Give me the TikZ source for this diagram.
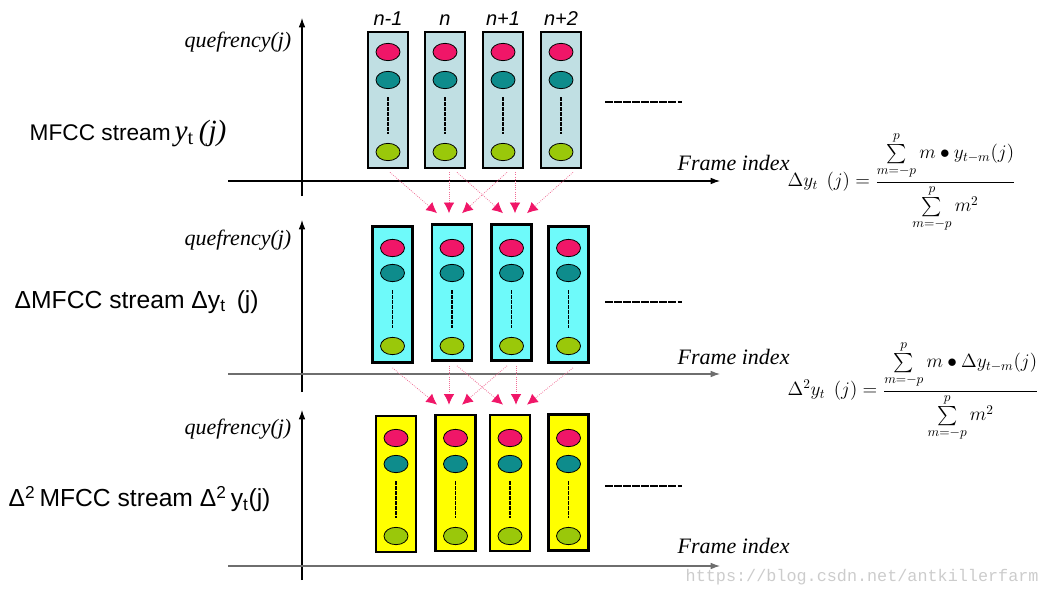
\documentclass[tikz,border=0pt]{standalone}
\usepackage{amsmath}
\usepackage{fontspec}
\setmainfont{Liberation Serif}
\setsansfont{Liberation Sans}
\setmonofont{Liberation Mono}
\usetikzlibrary{positioning, arrows.meta, shapes.geometric}

\definecolor{boxgray}{RGB}{192,223,227}
\definecolor{boxcyan}{RGB}{110,250,250}
\definecolor{boxyellow}{RGB}{255,255,0}
\definecolor{dotred}{RGB}{240,22,104}
\definecolor{dotteal}{RGB}{14,140,140}
\definecolor{dotgreen}{RGB}{154,200,10}
\definecolor{linkpink}{RGB}{240,110,150}
\definecolor{axisgray}{RGB}{110,110,110}

\tikzset{
  framebox/.style={draw, line width=2pt, minimum width=30pt, minimum height=102pt, inner sep=0pt},
  dot/.style={draw, ellipse, line width=0.6pt, minimum width=18pt, minimum height=13pt, inner sep=0pt},
  gapline/.style={line width=1.4pt, dash pattern=on 3pt off 0.7pt},
  more/.style={line width=1.2pt, dash pattern=on 6pt off 0.8pt},
  axis/.style={line width=0.8pt, -{Latex[length=7pt,width=5pt]}},
  link/.style={linkpink, line width=0.6pt, densely dotted, -{Latex[length=8pt,width=8pt,color=dotred]}},
  ylab/.style={font=\fontsize{16.5}{18}\selectfont\itshape, anchor=east},
  xlab/.style={font=\fontsize{16.5}{20}\selectfont\itshape, anchor=west},
  stream/.style={font=\sffamily\fontsize{17}{20}\selectfont, anchor=west},
  framelab/.style={font=\sffamily\itshape\fontsize{15}{17}\selectfont},
  formula/.style={font=\fontsize{14.5}{17}\selectfont, anchor=west},
}

\begin{document}
\begin{tikzpicture}[x=0.75pt, y=-0.75pt]
  \useasboundingbox (0,0) rectangle (1045,599);

  % Axes
  \draw[axis] (302,196) -- (302,18);
  \draw[axis] (228,181) -- (720,181);
  \draw[axis] (302,392) -- (302,220);
  \draw[axis, axisgray] (228,374) -- (720,374);
  \draw[axis] (302,580) -- (302,410);
  \draw[axis, axisgray] (228,566) -- (720,566);

  % Axis labels
  \node[ylab] (q1) at (296,42) {quefrency(j)};
  \node[ylab] (q2) at (296,240) {quefrency(j)};
  \node[ylab] (q3) at (296,429) {quefrency(j)};
  \node[xlab] (f1) at (673,163) {Frame index};
  \node[xlab] (f2) at (673,357) {Frame index};
  \node[xlab] (f3) at (673,546) {Frame index};

  % Stream names
  \node[stream] (s1) at (25,133) {MFCC stream\,{\rmfamily\itshape\fontsize{22}{24}\selectfont y\textsubscript{\upshape t}\,(j)}};
  \node[stream, font=\sffamily\fontsize{18.5}{22}\selectfont] (s2) at (10,302) {ΔMFCC stream Δy\textsubscript{t}\ \,(j)};
  \node[stream, font=\sffamily\fontsize{18.5}{22}\selectfont] (s3) at (4,499) {Δ\textsuperscript{2}\,MFCC stream Δ\textsuperscript{2}\,y\textsubscript{t}(j)};

  % MFCC frames
  \foreach \i/\x/\y/\lab in {1/388/100/n-1, 2/445/100/n, 3/503/100/n+1, 4/561/100/n+2} {
    \node[framebox, fill=boxgray] (a\i) at (\x,\y) {};
    \node[framelab, above=0pt of a\i] (l\i) {\lab};
    \node[dot, fill=dotred] (a\i-red) at (\x,52) {};
    \node[dot, fill=dotteal] (a\i-teal) at (\x,80) {};
    \node[dot, fill=dotgreen] (a\i-green) at (\x,152) {};
    \draw[gapline] ([yshift=-6pt]a\i-teal.south) -- ([yshift=7pt]a\i-green.north);
  }

  % delta frames
  \foreach \i/\x/\y in {1/392.5/294.5, 2/452/292.5, 3/511.5/292.5, 4/568.5/294.5} {
    \node[framebox, fill=boxcyan] (b\i) at (\x,\y) {};
    \node[dot, fill=dotred] (b\i-red) at (\x,248) {};
    \node[dot, fill=dotteal] (b\i-teal) at (\x,273) {};
    \node[dot, fill=dotgreen] (b\i-green) at (\x,346) {};
    \draw[gapline] ([yshift=-6pt]b\i-teal.south) -- ([yshift=7pt]b\i-green.north);
  }

  % delta-delta frames
  \foreach \i/\x/\y in {1/396/484, 2/455.5/483, 3/510/483, 4/568.5/482.5} {
    \node[framebox, fill=boxyellow] (c\i) at (\x,\y) {};
    \node[dot, fill=dotred] (c\i-red) at (\x,438) {};
    \node[dot, fill=dotteal] (c\i-teal) at (\x,464) {};
    \node[dot, fill=dotgreen] (c\i-green) at (\x,536) {};
    \draw[gapline] ([yshift=-6pt]c\i-teal.south) -- ([yshift=7pt]c\i-green.north);
  }

  % more frames
  \draw[more] (605,102) -- (682,102);
  \draw[more] (605,302) -- (682,302);
  \draw[more] (605,486) -- (682,486);

  % MFCC -> delta
  \draw[link] ([shift={(2,3)}]a1.south) -- ([shift={(-15,-10)}]b2.north);
  \draw[link] ([shift={(4,3)}]a2.south) -- ([shift={(-3,-10)}]b2.north);
  \draw[link] ([shift={(4,3)}]a3.south) -- ([shift={(10,-10)}]b2.north);
  \draw[link] ([shift={(12,3)}]a2.south) -- ([shift={(-8.5,-10)}]b3.north);
  \draw[link] ([shift={(12,3)}]a3.south) -- ([shift={(3.5,-10)}]b3.north);
  \draw[link] ([shift={(12,3)}]a4.south) -- ([shift={(15.5,-10)}]b3.north);

  % delta -> delta-delta
  \draw[link] ([shift={(0,4)}]b1.south) -- ([shift={(-18.5,-9)}]c2.north);
  \draw[link] ([shift={(-3,4)}]b2.south) -- ([shift={(-6.5,-9)}]c2.north);
  \draw[link] ([shift={(-4.5,4)}]b3.south) -- ([shift={(6.5,-9)}]c2.north);
  \draw[link] ([shift={(5,4)}]b2.south) -- ([shift={(-7,-9)}]c3.north);
  \draw[link] ([shift={(4.5,4)}]b3.south) -- ([shift={(6,-9)}]c3.north);
  \draw[link] ([shift={(4.5,4)}]b4.south) -- ([shift={(17,-9)}]c3.north);

  % Formulas
  \node[formula] (d1) at (783,182) {$\Delta y_t\;\,(j) = \dfrac{\sum\limits_{m=-p}^{p} m \bullet y_{t-m}(j)}{\sum\limits_{m=-p}^{p} m^2}$};
  \node[formula] (d2) at (783,391) {$\Delta^2 y_t\;\,(j) = \dfrac{\sum\limits_{m=-p}^{p} m \bullet \Delta y_{t-m}(j)}{\sum\limits_{m=-p}^{p} m^2}$};

  % Watermark
  \node[anchor=west, text=black!20, font=\ttfamily\fontsize{12.6}{14}\selectfont] (w) at (681,577) {https://blog.csdn.net/antkillerfarm};
\end{tikzpicture}
\end{document}
